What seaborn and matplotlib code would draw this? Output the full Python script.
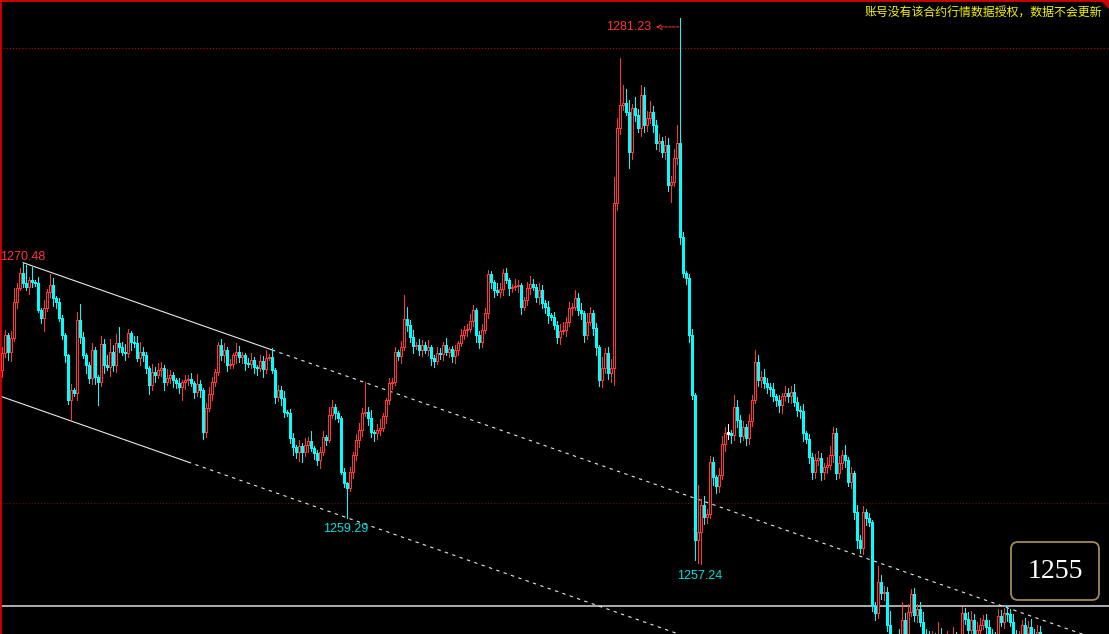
import numpy as np
import matplotlib
matplotlib.use("Agg")
import matplotlib.pyplot as plt
import seaborn as sns
from matplotlib.patches import FancyBboxPatch, Polygon
from matplotlib.transforms import IdentityTransform

# ---------------- data ----------------
first_open = 1265.77
closes = [
    1266.52, 1267.31, 1266.56, 1267.18, 1268.75, 1269.37, 1270.03, 1269.59, 1269.41, 1269.72,
    1269.63, 1269.59, 1268.40, 1268.05, 1268.49, 1269.19, 1269.50, 1268.93, 1268.75, 1268.05,
    1267.31, 1266.43, 1264.46, 1264.90, 1264.76, 1267.97, 1267.22, 1266.43, 1265.99, 1265.42,
    1266.65, 1265.46, 1265.25, 1266.91, 1265.99, 1265.90, 1266.56, 1265.99, 1266.96, 1266.78,
    1266.56, 1266.52, 1267.39, 1267.00, 1266.96, 1266.30, 1266.56, 1266.43, 1265.86, 1265.11,
    1265.68, 1265.55, 1265.77, 1265.86, 1265.25, 1265.42, 1265.55, 1265.33, 1265.20, 1265.03,
    1265.25, 1265.33, 1265.38, 1265.20, 1264.81, 1265.16, 1264.90, 1263.05, 1264.11, 1264.72,
    1265.25, 1265.68, 1266.87, 1266.43, 1266.65, 1265.99, 1266.04, 1266.43, 1266.56, 1266.34,
    1266.43, 1266.08, 1266.04, 1266.21, 1265.90, 1265.86, 1266.17, 1265.82, 1266.30, 1266.34,
    1265.77, 1264.59, 1264.90, 1264.54, 1263.93, 1263.89, 1262.79, 1262.39, 1262.18, 1262.44,
    1262.18, 1262.48, 1262.66, 1262.35, 1262.13, 1261.82, 1262.18, 1262.83, 1262.70, 1263.80,
    1264.15, 1263.89, 1263.67, 1261.30, 1260.82, 1260.60, 1261.30, 1262.04, 1262.70, 1263.14,
    1263.89, 1263.93, 1263.67, 1263.05, 1263.01, 1263.14, 1263.23, 1263.75, 1264.46, 1265.20,
    1265.25, 1266.56, 1266.39, 1266.78, 1268.01, 1267.75, 1267.22, 1266.82, 1266.87, 1266.65,
    1266.87, 1266.65, 1266.78, 1266.30, 1266.17, 1266.52, 1266.47, 1266.87, 1266.56, 1266.69,
    1266.39, 1266.65, 1266.96, 1267.31, 1267.53, 1267.57, 1267.92, 1268.40, 1267.31, 1267.00,
    1267.53, 1268.27, 1269.98, 1269.63, 1269.28, 1269.19, 1269.32, 1270.03, 1269.72, 1269.37,
    1269.41, 1269.46, 1269.50, 1268.54, 1268.84, 1269.37, 1269.54, 1269.41, 1268.97, 1269.28,
    1268.71, 1268.54, 1268.18, 1268.10, 1267.75, 1267.22, 1267.48, 1267.53, 1267.88, 1268.49,
    1268.54, 1268.93, 1268.40, 1268.27, 1267.31, 1267.88, 1268.27, 1267.61, 1266.78, 1265.33,
    1265.86, 1266.52, 1265.64, 1265.86, 1273.10, 1276.39, 1277.39, 1277.48, 1277.09, 1275.33,
    1277.26, 1276.96, 1276.39, 1277.83, 1276.52, 1276.82, 1277.09, 1276.52, 1275.73, 1275.82,
    1275.33, 1275.64, 1273.89, 1274.02, 1275.07, 1275.73, 1271.61, 1270.03, 1269.81, 1267.31,
    1264.68, 1258.32, 1258.67, 1259.85, 1259.32, 1259.46, 1261.74, 1261.08, 1260.68, 1261.17,
    1262.53, 1263.01, 1263.01, 1262.92, 1264.15, 1263.58, 1262.88, 1263.27, 1262.79, 1263.53,
    1264.46, 1266.12, 1265.33, 1265.46, 1265.20, 1265.03, 1264.94, 1264.63, 1264.46, 1264.24,
    1264.63, 1264.76, 1264.63, 1264.81, 1264.37, 1264.02, 1263.97, 1263.01, 1262.75, 1261.96,
    1261.30, 1261.82, 1261.91, 1261.30, 1261.52, 1261.61, 1262.04, 1263.01, 1261.25, 1261.69,
    1262.04, 1261.82, 1260.86, 1261.25, 1259.54, 1258.32, 1257.96, 1259.54, 1259.28, 1259.11,
    1255.46, 1255.11, 1256.47, 1255.99, 1256.03, 1254.59, 1253.49, 1253.27, 1253.49, 1253.27,
    1254.81, 1254.19, 1255.16, 1255.95, 1255.03, 1255.29, 1254.72, 1253.93, 1253.71, 1253.49,
    1253.84, 1253.58, 1254.02, 1253.71, 1253.27, 1253.71, 1253.49, 1253.93, 1253.58, 1253.40,
    1255.11, 1254.85, 1254.37, 1254.81, 1254.19, 1254.37, 1254.59, 1254.81, 1254.50, 1254.19,
    1253.93, 1253.71, 1254.98, 1254.72, 1255.11, 1255.07, 1254.72, 1253.93, 1253.49, 1253.71,
    1254.59, 1254.24, 1254.50, 1254.19, 1254.11, 1254.28, 1254.11,
]
upper_wick = [
    0.25, 0.22, 0.10, 0.30, 0.60, 0.20, 0.22, 0.45, 0.79, 0.15,
    0.57, 0.10, 0.25, 0.10, 0.35, 0.15, 0.48, 0.30, 0.10, 0.20,
    0.15, 0.10, 0.05, 0.25, 0.10, 0.35, 0.70, 0.20, 0.10, 0.15,
    0.30, 0.15, 0.10, 0.35, 0.20, 0.45, 0.55, 0.30, 0.40, 0.70,
    0.20, 0.35, 0.20, 0.10, 0.25, 0.30, 0.45, 0.20, 0.15, 0.10,
    0.35, 0.20, 0.30, 0.25, 0.15, 0.40, 0.20, 0.15, 0.10, 0.20,
    0.10, 0.20, 0.15, 0.25, 0.10, 0.45, 0.15, 0.10, 0.20, 0.30,
    0.20, 0.15, 0.15, 0.26, 0.30, 0.15, 0.20, 0.10, 0.40, 0.25,
    0.15, 0.10, 0.20, 0.30, 0.15, 0.10, 0.25, 0.20, 0.35, 0.15,
    0.40, 0.10, 0.20, 0.15, 0.30, 0.10, 0.15, 0.20, 0.10, 0.25,
    0.15, 0.30, 0.15, 0.45, 0.10, 0.15, 0.20, 0.25, 0.10, 0.35,
    0.30, 0.15, 0.10, 0.10, 0.15, 0.05, 0.20, 0.15, 0.25, 0.30,
    0.20, 1.32, 0.20, 0.35, 0.10, 0.25, 0.40, 0.15, 0.10, 0.20,
    0.15, 0.20, 0.10, 0.25, 1.05, 0.53, 0.20, 0.30, 0.15, 0.25,
    0.20, 0.15, 0.30, 0.10, 0.15, 0.25, 0.20, 0.15, 0.30, 0.10,
    0.15, 0.20, 0.10, 0.25, 0.15, 0.20, 0.30, 0.20, 0.10, 0.15,
    0.25, 0.20, 0.18, 0.15, 0.10, 0.30, 0.25, 0.15, 0.20, 0.10,
    0.15, 0.30, 0.20, 0.10, 0.15, 0.25, 0.35, 0.20, 0.15, 0.30,
    0.20, 0.15, 0.25, 0.10, 0.20, 0.15, 0.30, 0.35, 0.20, 0.25,
    0.15, 0.35, 0.20, 0.30, 0.10, 0.40, 0.25, 0.15, 0.20, 0.10,
    0.50, 0.20, 0.25, 0.40, 1.14, 0.45, 2.06, 0.79, 0.60, 0.53,
    0.20, 0.50, 0.25, 0.44, 0.35, 0.30, 0.50, 0.25, 0.20, 0.30,
    0.15, 0.40, 0.30, 0.25, 0.40, 0.79, 5.50, 0.20, 0.10, 0.15,
    0.25, 0.10, 2.06, 0.25, 0.40, 0.20, 0.26, 0.20, 0.10, 0.30,
    0.35, 0.25, 0.40, 0.15, 0.53, 0.30, 0.20, 0.25, 0.15, 0.30,
    0.20, 0.53, 0.30, 0.25, 0.35, 0.20, 0.15, 0.25, 0.10, 0.20,
    0.15, 0.30, 0.20, 0.25, 0.35, 0.20, 0.15, 0.30, 0.10, 0.20,
    0.15, 0.25, 0.30, 0.20, 0.15, 0.35, 0.40, 0.25, 0.20, 0.30,
    0.20, 0.45, 0.15, 0.25, 0.10, 0.30, 0.20, 0.25, 0.15, 0.20,
    0.10, 0.15, 0.70, 0.30, 0.25, 0.20, 0.60, 0.40, 0.70, 0.90,
    0.80, 0.30, 0.35, 0.22, 0.25, 0.20, 0.30, 0.45, 0.50, 0.60,
    0.50, 0.40, 0.70, 0.45, 0.30, 0.60, 0.40, 0.55, 0.35, 0.50,
    0.26, 0.20, 0.30, 0.40, 0.25, 0.35, 0.30, 0.20, 0.25, 0.30,
    0.20, 0.35, 0.30, 0.25, 0.22, 0.30, 0.20, 0.35, 0.45, 0.60,
    0.22, 0.30, 0.25, 0.35, 0.20, 0.30, 0.25,
]
lower_wick = [
    0.30, 0.20, 0.35, 0.40, 0.15, 0.25, 0.10, 0.20, 0.15, 0.30,
    0.20, 0.15, 0.10, 0.20, 0.57, 0.15, 0.20, 0.35, 0.25, 0.15,
    0.20, 0.30, 0.20, 0.88, 0.15, 0.30, 0.25, 0.15, 0.35, 0.20,
    0.25, 0.30, 1.00, 0.20, 0.35, 0.15, 0.40, 0.25, 0.30, 0.20,
    0.15, 0.30, 0.20, 0.35, 0.20, 0.15, 0.30, 0.25, 0.20, 0.40,
    0.20, 0.30, 0.15, 0.25, 0.35, 0.15, 0.20, 0.30, 0.20, 0.25,
    0.57, 0.30, 0.20, 0.15, 0.25, 0.20, 0.30, 0.30, 0.20, 0.15,
    0.25, 0.20, 0.15, 0.20, 0.30, 0.25, 0.15, 0.20, 0.35, 0.20,
    0.25, 0.30, 0.15, 0.20, 0.25, 0.30, 0.15, 0.35, 0.20, 0.10,
    0.15, 0.25, 0.20, 0.30, 0.20, 0.15, 0.20, 0.35, 0.25, 0.40,
    0.45, 0.20, 0.30, 0.15, 0.25, 0.20, 0.35, 0.15, 0.20, 0.10,
    0.15, 0.25, 0.20, 0.10, 0.20, 1.31, 0.15, 0.25, 0.20, 0.30,
    0.25, 0.15, 0.30, 0.20, 0.35, 0.25, 0.20, 0.15, 0.30, 0.20,
    0.25, 0.15, 0.20, 0.30, 0.15, 0.25, 0.20, 0.30, 0.15, 0.20,
    0.25, 0.15, 0.20, 0.30, 0.25, 0.15, 0.20, 0.25, 0.15, 0.20,
    0.25, 0.30, 0.20, 0.15, 0.20, 0.25, 0.15, 0.20, 0.30, 0.25,
    0.20, 0.15, 0.20, 0.25, 0.30, 0.15, 0.20, 0.25, 0.15, 0.30,
    0.20, 0.15, 0.25, 0.30, 0.15, 0.20, 0.25, 0.15, 0.20, 0.30,
    0.20, 0.25, 0.35, 0.15, 0.20, 0.25, 0.30, 0.15, 0.25, 0.20,
    0.30, 0.15, 0.20, 0.25, 0.30, 0.20, 0.15, 0.30, 0.35, 0.25,
    0.30, 0.20, 0.25, 0.40, 0.75, 0.30, 0.25, 0.20, 0.15, 0.70,
    0.30, 0.25, 0.20, 0.35, 0.30, 0.25, 0.20, 0.30, 0.25, 0.35,
    0.20, 0.30, 0.25, 0.75, 0.20, 0.25, 0.30, 0.20, 0.25, 0.30,
    0.20, 0.88, 1.00, 1.43, 0.30, 0.25, 0.20, 0.35, 0.30, 0.25,
    0.20, 0.30, 0.25, 0.35, 0.20, 0.30, 0.25, 0.20, 0.30, 0.25,
    0.20, 0.15, 0.25, 0.30, 0.20, 0.25, 0.30, 0.20, 0.25, 0.30,
    0.35, 0.20, 0.25, 0.30, 0.20, 0.25, 0.30, 0.35, 0.20, 0.25,
    0.30, 0.25, 0.20, 0.35, 0.30, 0.25, 0.20, 0.30, 0.25, 0.20,
    0.25, 0.30, 0.20, 0.25, 0.30, 0.35, 0.20, 0.25, 0.30, 0.20,
    0.25, 0.30, 0.20, 0.25, 0.30, 0.25, 0.30, 0.20, 0.25, 0.30,
    0.20, 0.25, 0.30, 0.20, 0.25, 0.30, 0.20, 0.25, 0.30, 0.20,
    0.25, 0.30, 0.20, 0.25, 0.30, 0.20, 0.25, 0.30, 0.20, 0.25,
    0.30, 0.20, 0.25, 0.30, 0.20, 0.25, 0.30, 0.20, 0.25, 0.30,
    0.20, 0.25, 0.30, 0.20, 0.25, 0.30, 0.20, 0.25, 0.30, 0.20,
    0.25, 0.30, 0.20, 0.25, 0.30, 0.20, 0.25,
]

# marked extremes: (candle index, label text)
extreme_high_labels = [(7, "1270.48"), (226, "1281.23")]
extreme_low_labels = [(115, "1259.29"), (233, "1257.24")]

# channel: upper trend line through two highs, parallel line through a low
channel_upper = [(7, 1270.48), (90, 1266.65)]
channel_lower_anchor = (115, 1259.29)

# horizontal price levels
level_red = 1279.89
level_darkred = 1259.94
level_white = 1255.42
box_price_text = "1255"
notice_text = "账号没有该合约行情数据授权，数据不会更新"

# price window shown
price_top = 1282.00
price_bottom = 1254.19

# ---------------- style ----------------
sns.set_theme(style="dark")
plt.rcParams['font.family'] = ['Liberation Sans', 'DejaVu Sans']

RED = '#ff3434'
CYAN = '#00ffff'
WHITE = '#e8e8e8'

W, H = 1109, 634
fig = plt.figure(figsize=(W / 100, H / 100), dpi=100, facecolor='black')
ax = fig.add_axes([0, 0, 1, 1])
ax.set_facecolor('black')
ax.grid(False)
ax.set_xticks([])
ax.set_yticks([])
for side in ['bottom', 'right']:
    ax.spines[side].set_visible(False)
for side in ['top', 'left']:
    ax.spines[side].set_visible(True)
    ax.spines[side].set_color('#d00000')
    ax.spines[side].set_linewidth(2.0)

ax.set_xlim(-2 / 3, (W - 2) / 3)
ax.set_ylim(price_bottom, price_top)

# ---------------- candles ----------------
c = np.array(closes)
o = np.r_[first_open, c[:-1]]
hi = np.maximum(o, c) + np.array(upper_wick)
lo = np.minimum(o, c) - np.array(lower_wick)
idx = np.arange(len(c))
up = c > o
dn = c < o
dj = c == o
cols = np.where(up, RED, np.where(dn, CYAN, '#ffffff'))

ax.vlines(idx, lo, hi, colors=list(cols), linewidth=0.72, antialiased=False, zorder=3)
ax.bar(idx[up], (c - o)[up], bottom=o[up], width=0.64, facecolor='black',
       edgecolor=RED, linewidth=0.72, antialiased=False, zorder=4)
ax.bar(idx[dn], (o - c)[dn], bottom=c[dn], width=0.62, facecolor=CYAN,
       edgecolor=CYAN, linewidth=0.72, antialiased=False, zorder=4)
ax.hlines(c[dj], idx[dj] - 0.33, idx[dj] + 0.33, colors='#ffffff', linewidth=0.75,
          antialiased=False, zorder=4)

# ---------------- levels ----------------
ax.axhline(level_red, color='#d40000', linewidth=0.75, linestyle=(0, (1, 2)), zorder=2)
ax.axhline(level_darkred, color='#8a0000', linewidth=0.75, linestyle=(0, (1, 2)), zorder=2)
ax.axhline(level_white, color='#dcdcdc', linewidth=1.1, zorder=2)

# ---------------- channel lines ----------------
(x0, p0), (x1, p1) = channel_upper
slope = (p1 - p0) / (x1 - x0)
x_end = (W - 2) / 3
x_start = -2 / 3

def line_at(xa, xb, anchor_x, anchor_p):
    xs = np.array([xa, xb])
    return xs, anchor_p + slope * (xs - anchor_x)

xs, ys = line_at(x0, x1, x0, p0)
sns.lineplot(x=xs, y=ys, ax=ax, color=WHITE, linewidth=0.8, zorder=2, legend=False)
xs, ys = line_at(x1, x_end, x0, p0)
sns.lineplot(x=xs, y=ys, ax=ax, color=WHITE, linewidth=0.8, linestyle=(0, (3, 4)),
             zorder=2, legend=False)

lx, lp = channel_lower_anchor
xs, ys = line_at(x_start, 62, lx, lp)
sns.lineplot(x=xs, y=ys, ax=ax, color=WHITE, linewidth=0.8, zorder=2, legend=False)
xs, ys = line_at(62, x_end, lx, lp)
sns.lineplot(x=xs, y=ys, ax=ax, color=WHITE, linewidth=0.8, linestyle=(0, (3, 4)),
             zorder=2, legend=False)

ax.set_xlim(-2 / 3, (W - 2) / 3)
ax.set_ylim(price_bottom, price_top)

# ---------------- labels ----------------
i_a, t_a = extreme_high_labels[0]
ax.text(-0.62, float(t_a) + 0.25, t_a, color=RED, fontsize=9, ha='left', va='center', zorder=6)
i_b, t_b = extreme_high_labels[1]
yb = float(t_b) - 0.41
ax.annotate(t_b, xy=(i_b - 0.2, yb), xytext=(i_b - 9.6, yb), color=RED, fontsize=9,
            ha='right', va='center', zorder=6,
            arrowprops=dict(arrowstyle='<-', color=RED, linewidth=0.8, linestyle=(0, (2, 1.5)),
                            shrinkA=1, shrinkB=0))
for i_l, t_l in extreme_low_labels:
    ax.text(i_l - 0.5, float(t_l) - 0.5, t_l, color='#00e0e0', fontsize=9,
            ha='center', va='center', zorder=6)

# notice (top right)
fig.text(1102 / W, 1 - 13 / H, notice_text, ha='right', va='center', fontsize=8.6,
         color='#f2f200', family=['Noto Sans CJK SC', 'DejaVu Sans'])

# corner triangle
tri = Polygon([(1100, H), (W, H), (W, H - 9)], closed=True, transform=IdentityTransform(),
              facecolor='#d00000', edgecolor='none')
fig.patches.append(tri)

# price box
box = FancyBboxPatch((1011, H - 600), 88, 58, boxstyle='round,pad=0,rounding_size=7',
                     transform=IdentityTransform(), facecolor='black', edgecolor='#a08a55',
                     linewidth=1.3, zorder=10)
fig.patches.append(box)
fig.text(1055 / W, 1 - 572 / H, box_price_text, ha='center', va='center', fontsize=20,
         color='white', family=['Liberation Serif', 'DejaVu Serif'], zorder=11)

fig.savefig('out.png', dpi=100, facecolor='black')
